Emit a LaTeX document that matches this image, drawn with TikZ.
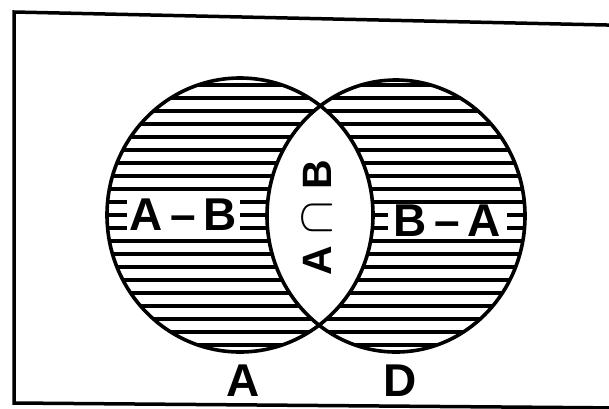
\RequirePackage{fix-cm}
\documentclass[tikz,border=0pt]{standalone}
\usepackage{fontspec}
\setmainfont{Liberation Sans}
\usepackage{tikz}

\begin{document}
\begin{tikzpicture}[x=1pt,y=-1pt,
    rim/.style={line width=3.6pt},
    hatch/.style={line width=3.2pt},
    region/.style={fill=white,inner sep=0pt,minimum height=34pt,font=\fontsize{46}{46}\selectfont\bfseries},
    setname/.style={font=\fontsize{46}{46}\selectfont\bfseries}]
    \useasboundingbox (0,0) rectangle (609,408);
    \draw[line width=3.5pt] (625,25.4) -- (14,12) -- (14,403) -- (625,408);
    \begin{scope}
        \clip (240,215) ellipse (133 and 137) (396,216) ellipse (129 and 136);
        \foreach \k in {0,...,20}
            \draw[hatch] (100,{85+13*\k}) -- (540,{85+13*\k});
    \end{scope}
    \begin{scope}
        \clip (240,215) ellipse (133 and 137);
        \fill[white] (396,216) ellipse (129 and 136);
    \end{scope}
    \draw[rim] (240,215) ellipse (133 and 137);
    \draw[rim] (396,216) ellipse (129 and 136);
    \node[region,minimum width=113pt] (aminusb) at (183.5,215) {A\,--\,B};
    \node[region,minimum width=119pt] (bminusa) at (447.5,221) {B\,--\,A};
    \node[setname,rotate=90,font=\fontsize{41}{41}\selectfont\bfseries] (acapb) at (317,217.5)
        {A\;{\fontsize{50}{50}\selectfont$\cap$}\;B};
    \node[setname] (seta) at (243,381) {A};
    \node[setname] (setd) at (400,381) {D};
\end{tikzpicture}
\end{document}
